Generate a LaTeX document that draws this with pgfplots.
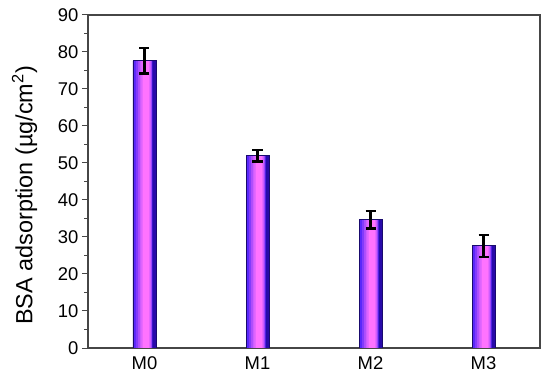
\documentclass[border=0pt]{standalone}
\usepackage{pgfplots}
\pgfplotsset{compat=1.18}
\usepackage{pgfplotstable}
\usepackage{fontspec}
\setmainfont{Liberation Sans}
\definecolor{axgray}{RGB}{70,70,70}
\definecolor{barblue}{RGB}{90,40,250}
\definecolor{bardark}{RGB}{40,10,170}
\definecolor{barmag}{RGB}{255,115,255}
\definecolor{baredge}{RGB}{25,10,110}

\pgfplotstableread{
x y e
0 77.6 3.4
1 52.0 1.6
2 34.7 2.4
3 27.6 2.9
}\bsa

% layered bars fake the horizontal gradient of the original
\pgfplotsset{
  layer/.style n args={3}{ybar, bar width=#1, bar shift=#2, draw=none, fill=#3},
}

\begin{document}
\begin{tikzpicture}
\begin{axis}[
  scale only axis,
  width=452bp, height=333bp,
  xmin=-0.5, xmax=3.5,
  ymin=0, ymax=90,
  xtick={0,1,2,3},
  xticklabels={M0,M1,M2,M3},
  ytick={0,10,...,90},
  minor y tick num=1,
  ytick pos=left,
  xtick pos=bottom,
  x tick style={draw=none},
  tick align=outside,
  major tick length=6bp,
  minor tick length=3.5bp,
  every tick/.style={axgray, line width=1bp},
  axis line style={axgray, line width=1.3bp},
  tick label style={font=\fontsize{18.5}{20}\selectfont},
  ylabel={BSA adsorption (µg/cm\textsuperscript{2})},
  ylabel style={font=\fontsize{23.5}{25}\selectfont, yshift=14bp, xshift=-14bp},
  /pgf/number format/assume math mode=true,
  xticklabel style={yshift=1bp},
]
  \addplot[layer={23bp}{0bp}{bardark}] table[x=x,y=y] {\bsa};
  \addplot[layer={19bp}{-1.5bp}{barblue}] table[x=x,y=y] {\bsa};
  \addplot[layer={16bp}{-0.5bp}{barblue!75!barmag}] table[x=x,y=y] {\bsa};
  \addplot[layer={13.5bp}{0.3bp}{barblue!50!barmag}] table[x=x,y=y] {\bsa};
  \addplot[layer={11bp}{0.8bp}{barblue!30!barmag}] table[x=x,y=y] {\bsa};
  \addplot[layer={8.5bp}{1.2bp}{barblue!15!barmag}] table[x=x,y=y] {\bsa};
  \addplot[layer={6bp}{1.5bp}{barmag}] table[x=x,y=y] {\bsa};
  \addplot[ybar, bar width=23bp, bar shift=0pt, draw=baredge, fill=none,
    line width=0.9bp,
    error bars/.cd, y dir=both, y explicit,
    error bar style={black, line width=2.2bp},
    error mark options={black, line width=2.2bp, mark size=5bp, rotate=90}]
    table[x=x, y=y, y error=e] {\bsa};
\end{axis}
\pgfresetboundingbox
\path (-88bp,-29bp) rectangle (462bp,348bp);
\end{tikzpicture}
\end{document}
